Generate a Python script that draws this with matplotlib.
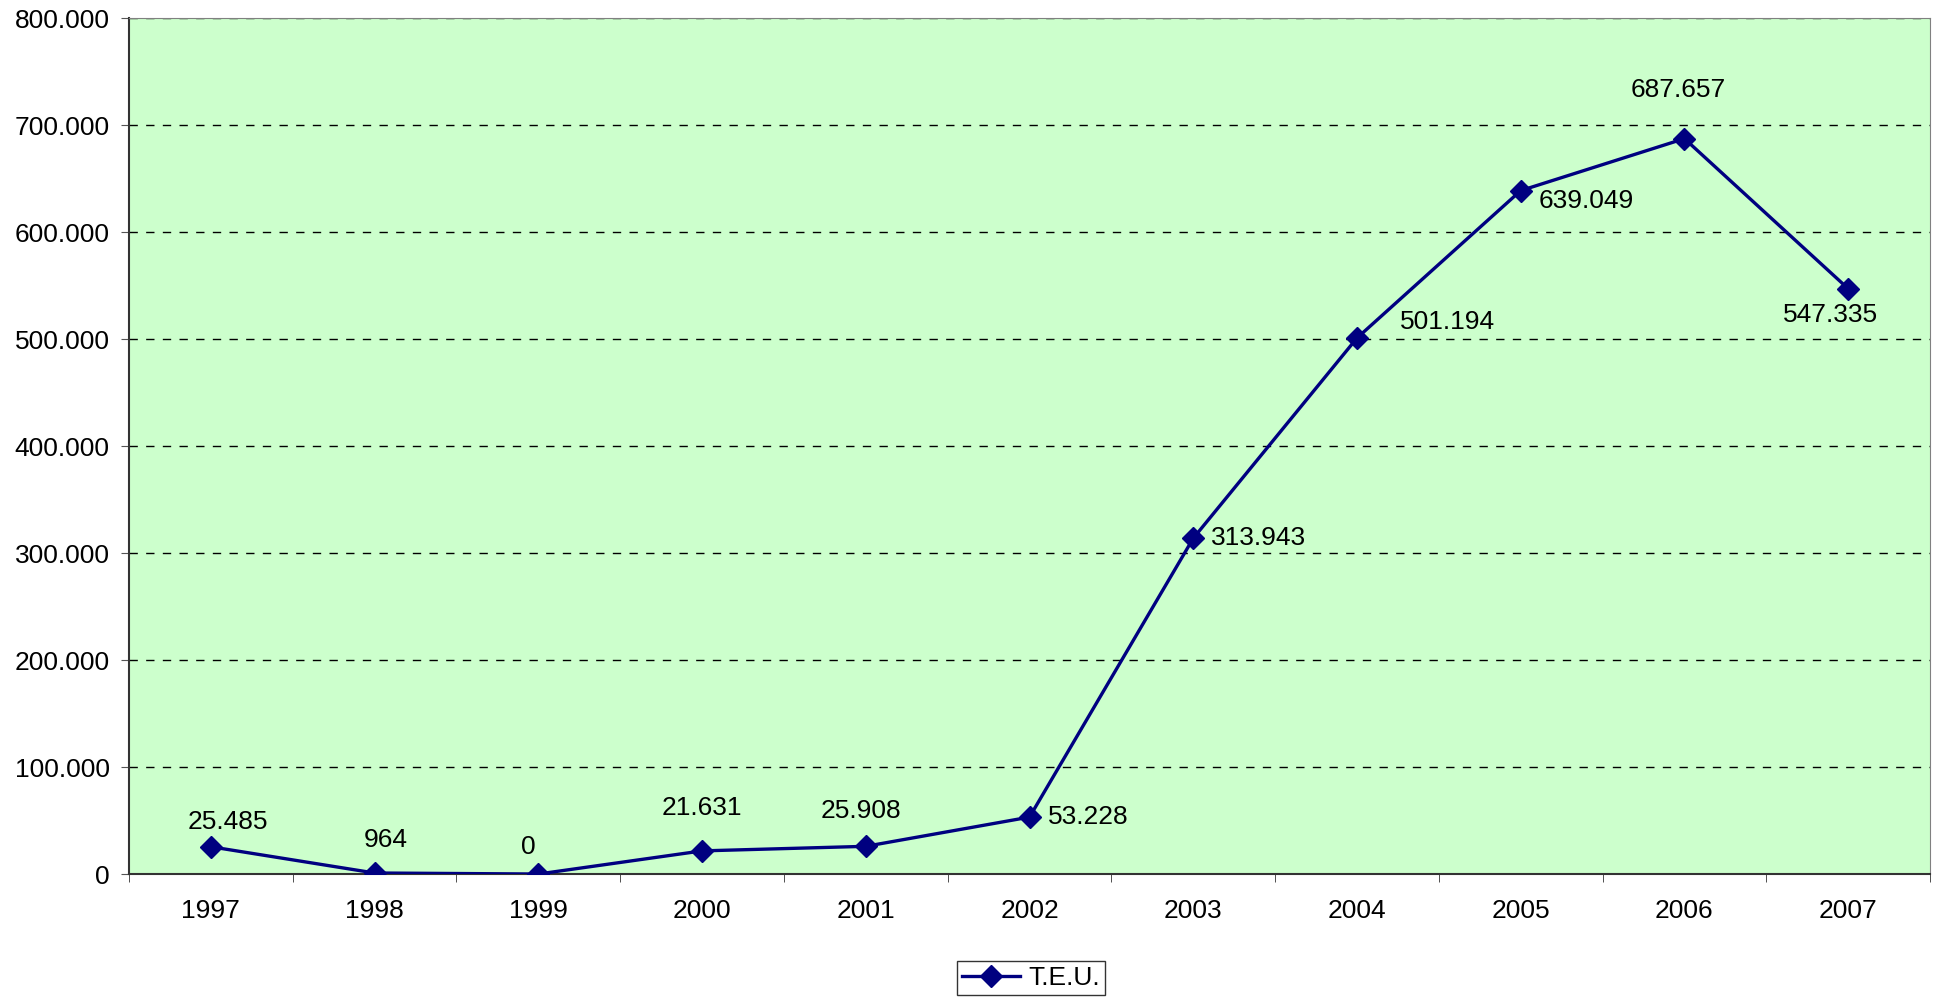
import matplotlib.pyplot as plt
from matplotlib.ticker import FuncFormatter, FixedLocator

plt.rcParams['font.family'] = ['Liberation Sans', 'DejaVu Sans']

years = ['1997', '1998', '1999', '2000', '2001', '2002', '2003', '2004', '2005', '2006', '2007']
teu = [25485, 964, 0, 21631, 25908, 53228, 313943, 501194, 639049, 687657, 547335]
labels = ['25.485', '964', '0', '21.631', '25.908', '53.228', '313.943', '501.194', '639.049', '687.657', '547.335']

# label offsets in pixels (dx, dy) and alignment, as placed in the original
offsets = [(17, 25, 'center'), (11, 33, 'center'), (-10, 27, 'center'), (0, 43, 'center'),
           (-5, 35, 'center'), (18, 0, 'left'), (18, 0, 'left'), (43, 16, 'left'),
           (18, -10, 'left'), (-6, 49, 'center'), (-18, -26, 'center')]

fig = plt.figure(figsize=(19.37, 9.99), dpi=100)
ax = fig.add_axes([0.0666, 0.1251, 0.9298, 0.8564])
ax.set_facecolor('#CCFFCC')

x = list(range(len(years)))
ax.plot(x, teu, color='#000080', lw=2.4, marker='D', markersize=11, label='T.E.U.', zorder=3)

for xi, yi, lab, (dx, dy, ha) in zip(x, teu, labels, offsets):
    ax.annotate(lab, (xi, yi), xytext=(dx, dy), textcoords='offset pixels',
                ha=ha, va='center', fontsize=19, color='black', zorder=4)

ax.set_xlim(-0.5, len(years) - 0.5)
ax.set_ylim(0, 800000)
ax.set_yticks(range(0, 800001, 100000))
ax.yaxis.set_major_formatter(FuncFormatter(lambda v, p: f"{int(v):,}".replace(',', '.')))
ax.grid(axis='y', color='black', linestyle=(0, (6, 6)), lw=1)

ax.set_xticks(x)
ax.set_xticklabels(years)
ax.xaxis.set_minor_locator(FixedLocator([i - 0.5 for i in range(len(years) + 1)]))
ax.tick_params(axis='x', which='major', length=0, pad=18, labelsize=19)
ax.tick_params(axis='x', which='minor', length=6, direction='out', color='#333333')
ax.tick_params(axis='y', length=6, direction='out', pad=8, labelsize=19, color='#555555')

ax.spines['left'].set_color('#333333')
ax.spines['bottom'].set_color('#333333')
ax.spines['left'].set_linewidth(1.5)
ax.spines['bottom'].set_linewidth(1.5)
ax.spines['top'].set_color('#808080')
ax.spines['right'].set_color('#808080')

leg = fig.legend(loc='center', bbox_to_anchor=(0.5323, 0.021), fontsize=19, frameon=True,
                 fancybox=False, edgecolor='black', handlelength=2.2, handletextpad=0.3,
                 borderpad=0.2, borderaxespad=0)
leg.get_frame().set_linewidth(1)

fig.savefig('out.png', dpi=100)
